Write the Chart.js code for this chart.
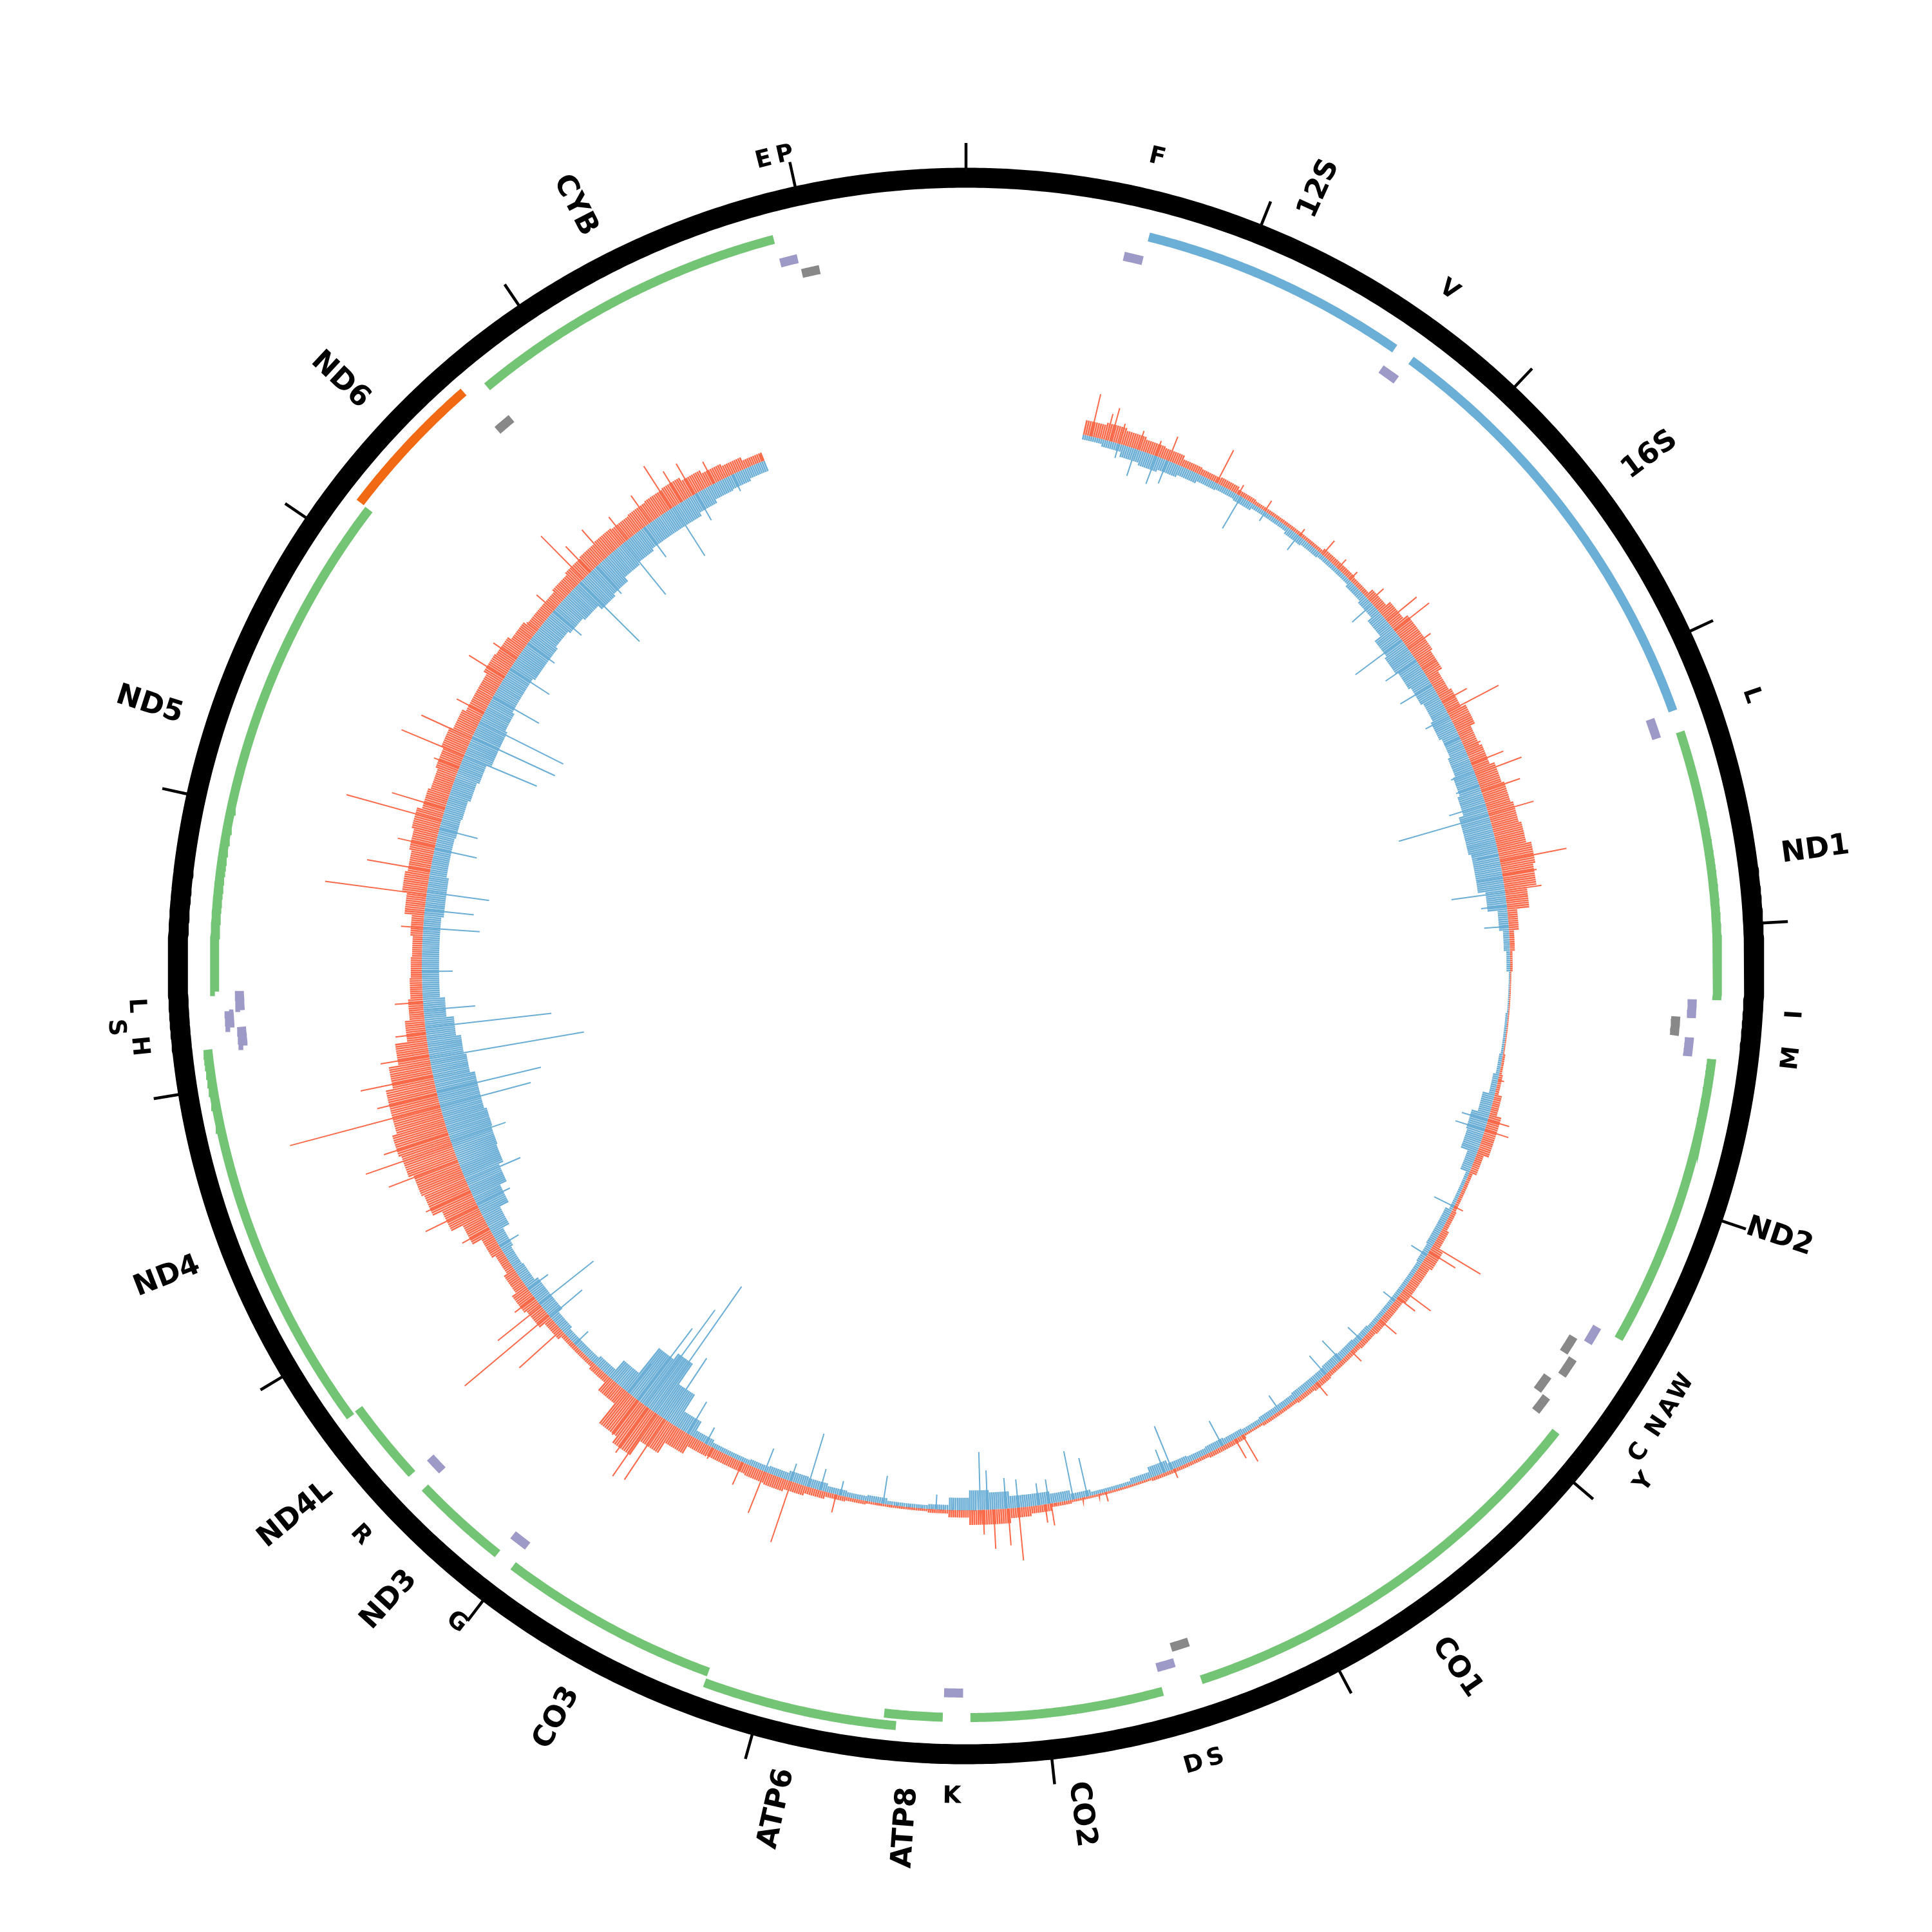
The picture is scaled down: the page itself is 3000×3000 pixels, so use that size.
<!DOCTYPE html>
<html lang="en">
<head>
<meta charset="UTF-8">
<title>mtDNA coverage</title>
<style>
  html, body { margin: 0; padding: 0; background: #fff; }
</style>
</head>
<body>
<canvas id="grafico" width="3000" height="3000"></canvas>
<script src="https://cdn.jsdelivr.net/npm/chart.js"></script>
<script>
// genome and features (rCRS coordinates)
const genomeLength = 16569
const tickStep = 1000

const featureNames = ['F','12S','V','16S','L1','ND1','I','Q','M','ND2','W','A','N','C','Y','CO1','S1','D','CO2','K','ATP8','ATP6','CO3','G','ND3','R','ND4L','ND4','H','S2','L2','ND5','ND6','E','CYB','T','P']
const featureStarts = [577,648,1602,1671,3230,3307,4263,4329,4402,4470,5512,5587,5657,5761,5826,5904,7446,7518,7586,8295,8366,8527,9207,9991,10059,10405,10470,10760,12138,12207,12266,12337,14149,14674,14747,15888,15956]
const featureEnds = [647,1601,1670,3229,3304,4262,4331,4400,4469,5511,5579,5655,5729,5826,5891,7445,7514,7585,8269,8364,8572,9207,9990,10058,10404,10469,10766,12137,12206,12265,12336,14148,14673,14742,15887,15953,16023]
const featureKinds = ['trnaH','rrna','trnaH','rrna','trnaH','gene','trnaH','trnaL','trnaH','gene','trnaH','trnaL','trnaL','trnaL','trnaL','gene','trnaL','trnaH','gene','trnaH','gene','gene','gene','trnaH','gene','trnaH','gene','gene','trnaH','trnaH','trnaH','gene','geneL','trnaL','gene','trnaH','trnaL']

const geneLabelNames = ['12S','16S','ND1','ND2','CO1','CO2','ATP8','ATP6','CO3','ND3','ND4L','ND4','ND5','ND6','CYB']
const trnaLabelText = ['F','V','L','I','M','W','A','N','C','Y','S','D','K','G','R','H','S','L','E','P']
const trnaLabelFeature = ['F','V','L1','I','M','W','A','N','C','Y','S1','D','K','G','R','H','S2','L2','T','P']

// coverage: 100 bp bins from covStart, forward (out) and reverse (in)
const covStart = 570
const covBin = 100
const fwdCore = [
  12,14,12,10,9,6,5,6,4,3,3,3,3,5,5,4,
  8,12,16,16,14,10,12,16,12,14,18,20,22,24,28,26,
  18,8,4,2,1,1,1,1,2,3,6,10,10,6,3,3,
  4,6,10,8,8,6,6,5,4,4,5,4,3,3,2,4,
  4,3,3,3,2,2,2,2,3,6,8,12,12,6,3,2,
  2,2,3,4,6,8,10,9,8,8,9,16,26,40,34,14,
  6,4,4,7,12,14,10,7,10,18,28,36,38,42,44,40,
  40,34,26,16,12,10,9,8,10,16,20,18,20,22,18,16,
  18,20,17,14,14,17,16,13,10,10,12,14,15,16,15,16,
  17,18,15,12,10,7]
const revCore = [
  4,6,10,12,10,8,6,5,6,4,4,6,5,4,4,6,
  8,12,18,20,18,16,14,16,14,16,18,20,24,24,22,22,
  16,8,5,3,1,1,2,2,3,5,10,15,14,8,3,3,
  6,6,5,4,4,4,4,5,6,7,6,6,5,5,4,5,
  6,5,6,9,5,3,3,5,8,10,10,14,16,10,4,3,
  3,5,4,5,7,8,6,5,4,4,6,14,30,50,44,18,
  8,6,6,8,12,12,9,8,10,16,24,30,34,35,36,34,
  34,30,28,24,18,14,14,14,14,16,16,14,14,15,16,18,
  20,24,24,22,20,20,22,22,20,22,24,28,26,22,20,18,
  18,18,15,12,11,9]

// single-position peaks
const fwdSpikePos = [610,686,709,753,847,939,1004,1262,1381,1533,1739,1883,1983,2062,2205,2333,2389,2504,2623,2808,2863,3056,3139,3194,3282,3397,3632,3700,3775,3906,4700,4900,4950,5350,5565,5600,5826,5870,6008,6213,6440,6880,6920,7250,7600,7870,7900,8030,8080,8150,8200,8920,9146,9284,9400,9560,9832,9882,9930,9990,10495,10588,10647,10700,11100,11222,11300,11462,11546,11600,11742,11800,11890,11990,12100,12250,12612,12773,12890,13010,13138,13200,13410,13472,13565,13700,13900,14008,14177,14306,14513,14560,14665,14797,14937,15059,15120,15189,15300,15560]
const fwdSpikeVal = [35,22,28,17,16,13,21,30,9,10,7,15,10,9,15,31,36,22,13,23,47,14,28,40,33,38,55,28,30,6,5,18,20,8,45,25,28,18,18,12,14,25,18,8,8,18,15,43,30,32,20,15,52,36,20,10,59,62,45,35,46,89,45,20,25,47,40,60,74,55,126,50,60,40,25,23,18,83,52,31,80,45,22,55,45,25,34,23,11,19,49,29,30,24,27,41,29,29,20,6]
const revSpikePos = [752,836,942,1000,1398,1537,1734,2224,2449,2569,2711,2886,3000,3177,3250,3347,3402,3600,3712,3784,3850,3950,4900,4950,5350,5620,5890,6140,6280,6380,6665,6990,7260,7300,7690,7760,7880,7930,8030,8090,8180,8215,8430,8688,8900,9000,9062,9150,9284,9600,9700,9825,9895,9947,9990,10050,10400,10578,10660,10750,11000,11232,11356,11563,11737,11810,11976,12127,12213,12400,12612,12700,12787,13000,13100,13473,13570,13653,13790,13950,14100,14300,14490,14600,14776,14900,15074,15200,15400]
const revSpikeVal = [12,23,24,20,30,9,15,22,47,30,30,22,14,20,20,31,76,18,21,44,21,20,22,25,18,15,12,15,22,20,15,23,38,20,32,40,20,18,23,25,32,47,12,23,12,18,45,15,20,15,30,60,124,96,73,30,15,34,56,20,18,30,48,47,76,87,127,103,42,25,46,40,51,35,32,64,74,76,43,38,27,30,68,30,54,30,47,25,15]

// geometry / style
const RING_R = 1224, RING_W = 31
const TICK_IN = 1238, TICK_OUT = 1278
const BASE_R = 845, DEPTH_PX = 1.913
const laneBase = { g: 1167, h: 1129, l: 1105 }
const laneStep = 17.5
const laneOf = { gene: 'g', rrna: 'g', geneL: 'g', trnaH: 'h', trnaL: 'l' }
const kindColor = { gene: '#74c476', rrna: '#6baed6', geneL: '#f16913', trnaH: '#9e9ac8', trnaL: '#888888' }
const GENE_LABEL_R = 1278, TRNA_LABEL_R = 1290, LABEL_BUMP = 34
const FWD_COLOR = '#fb6a4a', REV_COLOR = '#6baed6'

function pt(pos, r) {
  const a = pos / genomeLength * 2 * Math.PI
  return { x: r * Math.sin(a), y: r * Math.cos(a) }
}
const gap = { x: null, y: null }

function arc(start, end, r, step) {
  const n = Math.max(2, Math.ceil((end - start) / step))
  const out = []
  for (let i = 0; i <= n; i++) out.push(pt(start + (end - start) * i / n, r))
  return out
}

// lanes: bump a feature outward if it touches the previous one in its lane
const featureLane = []
const laneEnds = { g: [], h: [], l: [] }
featureNames.forEach((n, i) => {
  const ends = laneEnds[laneOf[featureKinds[i]]]
  let k = 0
  while (ends[k] !== undefined && featureStarts[i] - ends[k] < 5) k++
  ends[k] = featureEnds[i]
  featureLane.push(k)
})

const featurePts = {}
featureNames.forEach((n, i) => {
  const kind = featureKinds[i]
  const r = laneBase[laneOf[kind]] + laneStep * featureLane[i]
  if (!featurePts[kind]) featurePts[kind] = []
  featurePts[kind].push(...arc(featureStarts[i], featureEnds[i], r, 10), gap)
})

// each bin drawn as a comb of radial strokes
function coreBars(values, sign) {
  const pts = []
  values.forEach((v, i) => {
    const b0 = covStart + covBin * i
    for (let p = b0 + 5; p < b0 + covBin; p += 10) {
      pts.push(pt(p, BASE_R), pt(p, BASE_R + sign * v * DEPTH_PX), gap)
    }
  })
  return pts
}

function spikes(posArr, valArr, sign) {
  const pts = []
  posArr.forEach((p, i) => {
    pts.push(pt(p, BASE_R), pt(p, BASE_R + sign * valArr[i] * DEPTH_PX), gap)
  })
  return pts
}

const tickPts = []
for (let p = 0; p < genomeLength; p += tickStep) tickPts.push(pt(p, TICK_IN), pt(p, TICK_OUT), gap)

const line = (data, color, width, extra) => Object.assign({
  data, showLine: true, borderColor: color, borderWidth: width, pointRadius: 0,
  borderCapStyle: 'butt', fill: false
}, extra || {})

const datasets = [
  line(arc(0, genomeLength, RING_R, 15), '#000', RING_W, { order: 1, borderJoinStyle: 'round' }),
  line(tickPts, '#000', 4.5, { order: 1 })
]
Object.keys(featurePts).forEach(kind => datasets.push(line(featurePts[kind], kindColor[kind], 14, { order: 1 })))
datasets.push(
  line(spikes(fwdSpikePos, fwdSpikeVal, 1), FWD_COLOR, 2, { order: 2 }),
  line(spikes(revSpikePos, revSpikeVal, -1), REV_COLOR, 2, { order: 2 }),
  line(coreBars(fwdCore, 1), FWD_COLOR, 2.6, { order: 3 }),
  line(coreBars(revCore, -1), REV_COLOR, 2.6, { order: 3 })
)

const labelPlugin = {
  id: 'genomeLabels',
  afterDatasetsDraw(chart) {
    const ctx = chart.ctx
    const sx = chart.scales.x, sy = chart.scales.y
    const toPx = (pos, r) => { const p = pt(pos, r); return [sx.getPixelForValue(p.x), sy.getPixelForValue(p.y)] }
    ctx.save()
    ctx.fillStyle = '#000'
    ctx.textBaseline = 'middle'

    ctx.font = 'bold 45px "DejaVu Sans"'
    geneLabelNames.forEach(name => {
      const f = featureNames.indexOf(name)
      const mid = (featureStarts[f] + featureEnds[f]) / 2
      const a = mid / genomeLength * 2 * Math.PI
      const [px, py] = toPx(mid, GENE_LABEL_R)
      ctx.save()
      ctx.translate(px, py)
      if (a < Math.PI) { ctx.rotate(a - Math.PI / 2); ctx.textAlign = 'left' }
      else { ctx.rotate(a - 3 * Math.PI / 2); ctx.textAlign = 'right' }
      ctx.fillText(name, 0, 0)
      ctx.restore()
    })

    ctx.font = 'bold 37px "DejaVu Sans"'
    ctx.textAlign = 'center'
    let lastPos = -1e9
    trnaLabelText.forEach((txt, i) => {
      const f = featureNames.indexOf(trnaLabelFeature[i])
      const mid = (featureStarts[f] + featureEnds[f]) / 2
      const bump = mid - lastPos < 66 ? LABEL_BUMP : 0
      lastPos = bump ? -1e9 : mid
      const a = mid / genomeLength * 2 * Math.PI
      const [px, py] = toPx(mid, TRNA_LABEL_R + bump)
      ctx.save()
      ctx.translate(px, py)
      const deg = a * 180 / Math.PI
      ctx.rotate(deg > 90 && deg < 270 ? a - Math.PI : a)
      ctx.fillText(txt, 0, 0)
      ctx.restore()
    })
    ctx.restore()
  }
}

new Chart(document.querySelector('#grafico'), {
  type: 'scatter',
  data: { datasets },
  options: {
    responsive: false,
    animation: false,
    devicePixelRatio: 1,
    events: [],
    layout: { padding: 0 },
    scales: {
      x: { type: 'linear', min: -1500, max: 1500, display: false },
      y: { type: 'linear', min: -1500, max: 1500, display: false }
    },
    plugins: { legend: { display: false }, tooltip: { enabled: false } }
  },
  plugins: [labelPlugin]
})
</script>
</body>
</html>
